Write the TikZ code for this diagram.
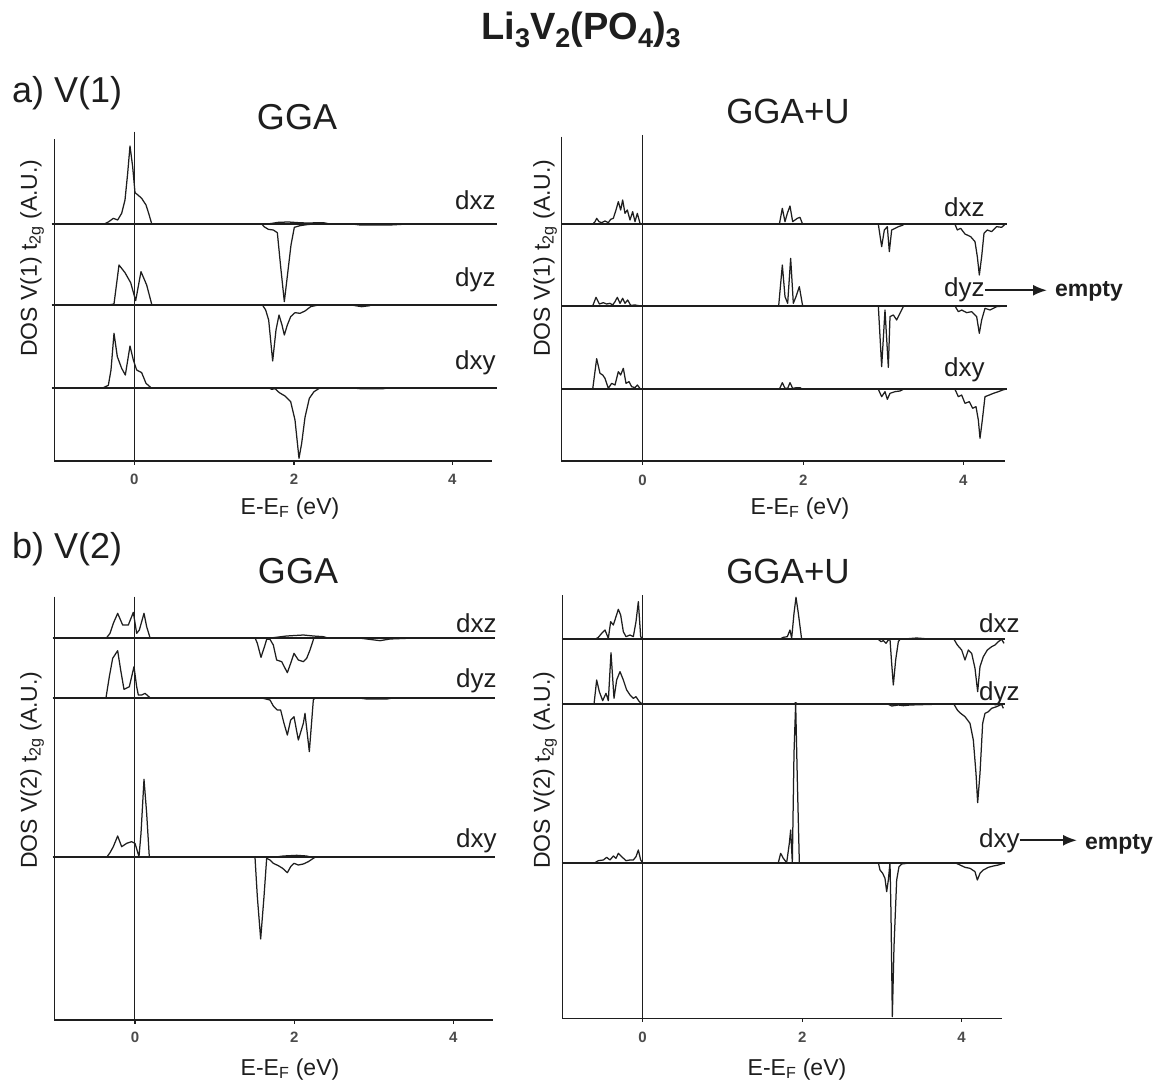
\documentclass[tikz,border=0pt]{standalone}
\usepackage{fontspec}
\setmainfont{Liberation Sans}
\usetikzlibrary{arrows.meta}
\definecolor{ink}{HTML}{1E1E1E}
\newcommand\tsub[1]{\raisebox{-8pt}{\fontsize{27}{27}\selectfont #1}}
\tikzset{
  bline/.style={line width=1.9pt},
  axl/.style={line width=1.2pt},
  zline/.style={line width=1.0pt},
  crv/.style={line width=1.25pt, line join=round},
  orb/.style={font=\fontsize{26}{28}\selectfont, inner sep=0pt, anchor=base west},
  ttl/.style={font=\fontsize{36}{40}\selectfont, inner sep=0pt, anchor=base},
  sec/.style={font=\fontsize{36}{40}\selectfont, inner sep=0pt, anchor=base west},
  ylab/.style={font=\fontsize{23}{26}\selectfont, inner sep=0pt, rotate=90},
  xlab/.style={font=\fontsize{23}{26}\selectfont, inner sep=0pt, anchor=base},
  tk/.style={font=\bfseries\fontsize{15}{16}\selectfont, inner sep=0pt, text=ink!80},
  emp/.style={font=\bfseries\fontsize{23}{26}\selectfont, inner sep=0pt, anchor=base west},
  arr/.style={-{Latex[length=14pt,width=11pt]}, line width=2pt, shorten >=8pt},
  panel/.style={x=0.33333pt, y=-0.33333pt}
}
\begin{document}
\begin{tikzpicture}[x=1pt,y=-1pt, color=ink, text=ink]
\useasboundingbox[fill=white] (0,0) rectangle (1163,1086);

% ---------- titles ----------
\node[font=\bfseries\fontsize{38}{40}\selectfont, inner sep=0pt, anchor=base] (title) at (581,40)
  {Li\tsub{3}V\tsub{2}(PO\tsub{4})\tsub{3}};
\node[sec] (secA) at (12,103) {a) V(1)};
\node[sec] (secB) at (12,558) {b) V(2)};
\node[ttl] (ggaA) at (297,130) {GGA};
\node[ttl, font=\fontsize{35}{40}\selectfont] (ggauA) at (788,124) {GGA+U};
\node[ttl] (ggaB) at (298,583) {GGA};
\node[ttl, font=\fontsize{35}{40}\selectfont] (ggauB) at (788,583) {GGA+U};

% ---------- axis labels ----------
\node[ylab] (ylA1) at (32,258) {DOS V(1) t\textsubscript{2g} (A.U.)};
\node[ylab] (ylA2) at (545,258) {DOS V(1) t\textsubscript{2g} (A.U.)};
\node[ylab] (ylB1) at (32,770) {DOS V(2) t\textsubscript{2g} (A.U.)};
\node[ylab] (ylB2) at (545,770) {DOS V(2) t\textsubscript{2g} (A.U.)};
\node[xlab] (xlA1) at (290,514) {E-E\textsubscript{F} (eV)};
\node[xlab] (xlA2) at (800,514) {E-E\textsubscript{F} (eV)};
\node[xlab] (xlB1) at (290,1075) {E-E\textsubscript{F} (eV)};
\node[xlab] (xlB2) at (797,1075) {E-E\textsubscript{F} (eV)};

% ---------- orbital labels ----------
\node[orb] (a1xz) at (455,210) {dxz};
\node[orb] (a1yz) at (455,287) {dyz};
\node[orb] (a1xy) at (455,369) {dxy};
\node[orb] (a2xz) at (944,217) {dxz};
\node[orb] (a2yz) at (944,297) {dyz};
\node[orb] (a2xy) at (944,377) {dxy};
\node[orb] (b1xz) at (456,632) {dxz};
\node[orb] (b1yz) at (456,687) {dyz};
\node[orb] (b1xy) at (456,847) {dxy};
\node[orb] (b2xz) at (979,632) {dxz};
\node[orb] (b2yz) at (979,700) {dyz};
\node[orb] (b2xy) at (979,847) {dxy};
\node[emp] (empA) at (1055,297) {empty};
\node[emp] (empB) at (1085,849) {empty};
\draw[arr] (a2yz.east) -- (a2yz.east -| empA.west);
\draw[arr] (b2xy.east) -- (b2xy.east -| empB.west);

% ================= panel a-left =================
\begin{scope}[xshift=40pt, yshift=-130pt, panel]
\draw[axl] (43,28) -- (43,993) -- (1357,993);
\foreach \t/\l in {283/0,762/2,1237/4} { \draw[axl] (\t,993) -- (\t,1005); \node[tk] at (\t,1047) {\l}; }
\draw[zline] (283,5) -- (283,993);
\foreach \b in {281,526,773} \draw[bline] (35,\b) -- (1370,\b);
% dxz
\draw[crv] plot coordinates {(195,281) (205,276) (220,265) (233,270) (245,250) (255,210) (263,130) (270,48) (278,110) (285,188) (295,196) (305,205) (318,225) (326,250) (335,281)};
\draw[crv] plot coordinates {(665,281) (672,290) (685,298) (700,300) (712,308) (722,410) (733,515) (743,430) (753,345) (763,292) (780,287) (800,284) (830,281)};
\draw[crv] plot coordinates {(690,281) (715,277) (745,276) (775,278) (800,279) (850,278) (865,281)};
\draw[crv] plot coordinates {(930,281) (960,285) (1050,285) (1105,282)};
% dyz
\draw[crv] plot coordinates {(200,526) (222,522) (237,405) (255,428) (272,458) (287,512) (303,425) (320,465) (336,526)};
\draw[crv] plot coordinates {(668,526) (677,540) (686,570) (698,693) (708,600) (717,555) (726,585) (733,615) (742,585) (752,560) (765,548) (780,550) (795,543) (812,530) (830,526)};
\draw[crv] plot coordinates {(940,526) (965,530) (990,527)};
% dxy
\draw[crv] plot coordinates {(190,773) (205,766) (213,720) (222,610) (232,680) (245,715) (256,735) (270,648) (280,690) (290,720) (305,728) (318,760) (333,773)};
\draw[crv] plot coordinates {(685,773) (695,778) (705,776) (718,788) (735,798) (752,815) (765,870) (777,985) (785,940) (795,862) (808,805) (822,785) (838,775) (850,773)};
\draw[crv] plot coordinates {(930,773) (960,776) (1030,776) (1050,773)};
\end{scope}

% ================= panel a-right =================
\begin{scope}[xshift=550pt, yshift=-130pt, panel]
\draw[axl] (35,20) -- (35,993) -- (1365,993);
\foreach \t/\l in {278/0,760/2,1240/4} { \draw[axl] (\t,993) -- (\t,1005); \node[tk] at (\t,1050) {\l}; }
\draw[zline] (278,15) -- (278,993);
\foreach \b in {283,528,778} \draw[bline] (35,\b) -- (1370,\b);
% dxz
\draw[crv] plot coordinates {(128,283) (135,275) (140,265) (147,275) (155,278) (165,273) (175,278) (182,268) (190,265) (198,240) (205,215) (212,240) (218,210) (225,250) (232,240) (240,270) (248,245) (255,275) (262,250) (270,280) (278,283)};
\draw[crv] plot coordinates {(688,283) (697,235) (705,275) (712,250) (720,228) (728,275) (735,270) (742,265) (750,262) (758,283)};
\draw[crv] plot coordinates {(985,283) (995,350) (1003,300) (1012,290) (1018,365) (1025,300) (1035,295) (1045,290) (1060,285)};
\draw[crv] plot coordinates {(1215,283) (1222,300) (1232,295) (1245,312) (1262,320) (1275,335) (1282,380) (1288,435) (1295,380) (1302,310) (1312,300) (1325,305) (1340,290) (1355,292) (1365,283)};
% dyz
\draw[crv] plot coordinates {(128,528) (138,502) (148,522) (160,518) (170,522) (180,520) (188,525) (195,515) (202,502) (210,520) (218,505) (225,520) (233,510) (242,526) (255,525) (272,528)};
\draw[crv] plot coordinates {(686,528) (697,405) (705,500) (713,520) (722,385) (730,520) (738,500) (748,470) (758,528)};
\draw[crv] plot coordinates {(985,528) (995,710) (1005,540) (1015,712) (1020,560) (1030,555) (1040,570) (1055,540) (1060,530)};
\draw[crv] plot coordinates {(1215,528) (1225,545) (1235,540) (1250,548) (1265,545) (1280,560) (1288,610) (1295,570) (1305,535) (1320,540) (1340,530) (1365,528)};
% dxy
\draw[crv] plot coordinates {(128,778) (140,686) (150,730) (158,735) (165,745) (175,775) (185,760) (195,765) (205,725) (212,735) (220,715) (228,760) (237,755) (245,770) (255,773) (262,765) (272,778)};
\draw[crv] plot coordinates {(688,778) (697,758) (705,775) (713,775) (720,758) (728,775) (740,773) (750,773) (758,778)};
\draw[crv] plot coordinates {(985,778) (995,800) (1005,785) (1012,808) (1020,790) (1035,785) (1050,783) (1060,778)};
\draw[crv] plot coordinates {(1215,778) (1225,800) (1235,795) (1245,820) (1258,815) (1268,835) (1278,830) (1285,870) (1290,925) (1297,870) (1305,800) (1318,795) (1330,790) (1345,785) (1358,780) (1365,778)};
\end{scope}

% ================= panel b-left =================
\begin{scope}[xshift=40pt, yshift=-580pt, panel]
\draw[axl] (43,50) -- (43,1320) -- (1360,1320);
\foreach \t/\l in {285/0,763/2,1240/4} { \draw[axl] (\t,1320) -- (\t,1332); \node[tk] at (\t,1373) {\l}; }
\draw[zline] (285,50) -- (285,1320);
\foreach \b in {173,353,832} \draw[bline] (38,\b) -- (1365,\b);
% dxz
\draw[crv] plot coordinates {(200,173) (210,160) (220,130) (233,100) (248,135) (265,135) (280,97) (290,160) (298,150) (312,100) (320,140) (330,173)};
\draw[crv] plot coordinates {(645,173) (652,190) (663,232) (675,195) (680,178) (690,178) (700,195) (710,240) (725,245) (742,278) (752,250) (762,220) (775,240) (790,245) (800,235) (810,210) (822,173)};
\draw[crv] plot coordinates {(700,173) (740,168) (790,165) (820,168) (850,170) (860,173)};
\draw[crv] plot coordinates {(950,173) (980,177) (1020,182) (1050,177) (1100,175)};
% dyz
\draw[crv] plot coordinates {(198,353) (208,290) (218,235) (233,212) (242,270) (252,328) (268,320) (282,260) (290,320) (295,345) (305,345) (315,340) (330,353)};
\draw[crv] plot coordinates {(650,353) (670,355) (690,360) (700,378) (712,390) (722,390) (732,430) (742,465) (752,420) (762,410) (775,480) (790,430) (795,400) (808,515) (820,360) (825,353)};
\draw[crv] plot coordinates {(950,353) (980,357) (1040,357) (1065,353)};
% dxy
\draw[crv] plot coordinates {(200,832) (210,818) (220,800) (233,768) (245,800) (260,790) (275,785) (285,790) (297,830) (303,760) (312,598) (320,700) (328,832)};
\draw[crv] plot coordinates {(645,832) (652,950) (662,1077) (672,950) (680,835) (690,840) (700,850) (715,857) (728,865) (742,878) (752,860) (762,850) (775,855) (790,852) (805,845) (820,835) (825,832)};
\draw[crv] plot coordinates {(700,832) (730,828) (770,826) (800,828) (815,832)};
\end{scope}

% ================= panel b-right =================
\begin{scope}[xshift=550pt, yshift=-580pt, panel]
\draw[axl] (38,45) -- (38,1315) -- (1355,1315);
\foreach \t/\l in {278/0,757/2,1235/4} { \draw[axl] (\t,1315) -- (\t,1327); \node[tk] at (\t,1373) {\l}; }
\draw[zline] (278,45) -- (278,1315);
\foreach \b in {178,373,848} \draw[bline] (35,\b) -- (1365,\b);
% dxz
\draw[crv] plot coordinates {(135,178) (145,172) (155,160) (165,150) (175,175) (182,125) (190,135) (198,110) (205,88) (212,105) (220,155) (228,170) (240,165) (250,170) (258,125) (265,65) (272,170) (278,178)};
\draw[crv] plot coordinates {(688,178) (700,172) (712,170) (720,150) (725,175) (732,100) (738,52) (745,100) (755,178)};
\draw[crv] plot coordinates {(985,178) (993,185) (1000,182) (1008,190) (1015,180) (1020,178) (1025,250) (1030,315) (1037,240) (1045,185) (1050,178) (1100,174) (1150,178)};
\draw[crv] plot coordinates {(1212,178) (1222,195) (1235,210) (1245,240) (1255,210) (1265,220) (1275,265) (1283,335) (1290,260) (1300,230) (1312,210) (1325,200) (1335,195) (1345,185) (1355,178) (1362,190)};
% dyz
\draw[crv] plot coordinates {(132,373) (140,300) (148,335) (158,362) (168,340) (175,362) (183,218) (192,355) (200,300) (210,275) (220,300) (230,330) (240,345) (250,355) (258,350) (268,365) (278,373)};
\draw[crv] plot coordinates {(730,373) (737,368) (745,373)};
\draw[crv] plot coordinates {(1015,373) (1025,378) (1045,375) (1060,377) (1080,375) (1150,373)};
\draw[crv] plot coordinates {(1212,373) (1222,390) (1232,400) (1245,410) (1260,430) (1270,480) (1278,580) (1283,668) (1290,580) (1298,430) (1305,400) (1315,395) (1325,385) (1340,380) (1355,373) (1360,385)};
% dxy
\draw[crv] plot coordinates {(135,848) (145,842) (160,840) (170,832) (180,840) (190,828) (198,835) (205,820) (215,830) (228,842) (240,840) (250,840) (258,830) (265,810) (272,840) (278,848)};
\draw[crv] plot coordinates {(685,848) (692,820) (700,835) (710,848) (718,790) (722,750) (727,848) (732,520) (737,370) (742,600) (748,848) (757,848)};
\draw[crv] plot coordinates {(985,848) (990,870) (998,880) (1005,895) (1010,935) (1015,900) (1020,848) (1023,1000) (1027,1310) (1032,1100) (1040,900) (1047,860) (1055,852) (1070,850) (1100,848)};
\draw[crv] plot coordinates {(1215,848) (1230,855) (1245,862) (1260,865) (1275,875) (1282,900) (1290,880) (1300,870) (1315,862) (1330,858) (1345,855) (1360,850)};
\end{scope}
\end{tikzpicture}
\end{document}
